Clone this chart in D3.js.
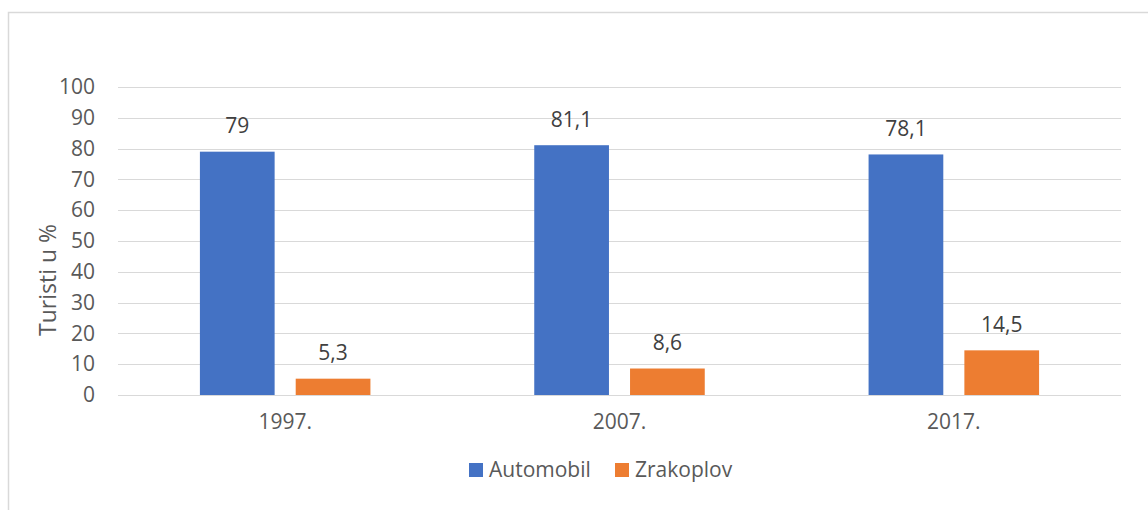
<!DOCTYPE html>
<html>
<head>
<meta charset="utf-8">
<script src="https://cdn.jsdelivr.net/npm/d3@7"></script>
<style>
  html, body { margin: 0; padding: 0; background: #fff; }
  svg { display: block; font-family: "Open Sans", sans-serif; }
</style>
</head>
<body>
<div id="chart"></div>
<script>
// chart data
var years = ["1997.", "2007.", "2017."];
var seriesNames = ["Automobil", "Zrakoplov"];
var automobil = [79, 81.1, 78.1];
var zrakoplov = [5.3, 8.6, 14.5];
var yTicks = [0, 10, 20, 30, 40, 50, 60, 70, 80, 90, 100];
var colors = ["#4472C4", "#ED7D31"];

var width = 1148, height = 510;
var plot = { left: 118, right: 1121, top: 87, bottom: 395 };

var svg = d3.select("#chart").append("svg")
    .attr("width", width)
    .attr("height", height);

// chart frame (cropped on right / bottom)
svg.append("path")
    .attr("d", "M8.5," + height + "V12.5H" + width)
    .attr("fill", "none")
    .attr("stroke", "#d9d9d9")
    .attr("stroke-width", 1.5);

var y = d3.scaleLinear().domain([0, 100]).range([plot.bottom, plot.top]);

var x0 = d3.scaleBand()
    .domain(years)
    .range([plot.left, plot.right])
    .paddingInner(0.49)
    .paddingOuter(0.245);

var x1 = d3.scaleBand()
    .domain(seriesNames)
    .range([0, x0.bandwidth()])
    .paddingInner(0.22);

// gridlines
svg.append("g")
    .selectAll("line")
    .data(yTicks)
    .enter()
    .append("line")
    .attr("x1", plot.left)
    .attr("x2", plot.right)
    .attr("y1", function(d) { return Math.round(y(d)) + 0.5; })
    .attr("y2", function(d) { return Math.round(y(d)) + 0.5; })
    .attr("stroke", "#d9d9d9")
    .attr("stroke-width", 1.2);

// y axis labels
var yAxis = d3.axisLeft(y).tickValues(yTicks).tickSize(0).tickPadding(0);
svg.append("g")
    .attr("transform", "translate(95,0)")
    .call(yAxis)
    .call(function(g) { g.select(".domain").remove(); })
    .selectAll("text")
    .attr("font-family", "Open Sans")
    .attr("font-size", 21)
    .attr("fill", "#595959");

// x axis labels
var xAxis = d3.axisBottom(x0).tickSize(0).tickPadding(0);
svg.append("g")
    .attr("transform", "translate(0,414)")
    .call(xAxis)
    .call(function(g) { g.select(".domain").remove(); })
    .selectAll("text")
    .attr("font-family", "Open Sans")
    .attr("font-size", 21)
    .attr("fill", "#595959");

// y title
svg.append("text")
    .attr("transform", "translate(56,280) rotate(-90)")
    .attr("text-anchor", "middle")
    .attr("font-size", 23)
    .attr("fill", "#595959")
    .text("Turisti u %");

var rows = years.map(function(yr, i) {
    return { year: yr, values: [automobil[i], zrakoplov[i]] };
});

var groups = svg.append("g")
    .selectAll("g")
    .data(rows)
    .enter()
    .append("g")
    .attr("transform", function(d) { return "translate(" + x0(d.year) + ",0)"; });

var cells = groups.selectAll("g")
    .data(function(d) {
        return seriesNames.map(function(s, j) { return { name: s, value: d.values[j], idx: j }; });
    })
    .enter()
    .append("g");

cells.append("rect")
    .attr("x", function(d) { return x1(d.name); })
    .attr("width", x1.bandwidth())
    .attr("y", function(d) { return y(d.value); })
    .attr("height", function(d) { return y(0) - y(d.value); })
    .attr("fill", function(d) { return colors[d.idx]; });

cells.append("text")
    .attr("x", function(d) { return x1(d.name) + x1.bandwidth() / 2; })
    .attr("y", function(d) { return y(d.value) - 18.5; })
    .attr("text-anchor", "middle")
    .attr("font-size", 21)
    .attr("fill", "#404040")
    .text(function(d) { return String(d.value).replace(".", ","); });

// legend
var legendX = [469, 615];
var legend = svg.append("g")
    .selectAll("g")
    .data(seriesNames)
    .enter()
    .append("g")
    .attr("transform", function(d, i) { return "translate(" + legendX[i] + ",463)"; });

legend.append("rect")
    .attr("width", 14)
    .attr("height", 14)
    .attr("fill", function(d, i) { return colors[i]; });

legend.append("text")
    .attr("x", 20)
    .attr("y", 14)
    .attr("font-size", 21)
    .attr("fill", "#595959")
    .text(function(d) { return d; });
</script>
</body>
</html>
